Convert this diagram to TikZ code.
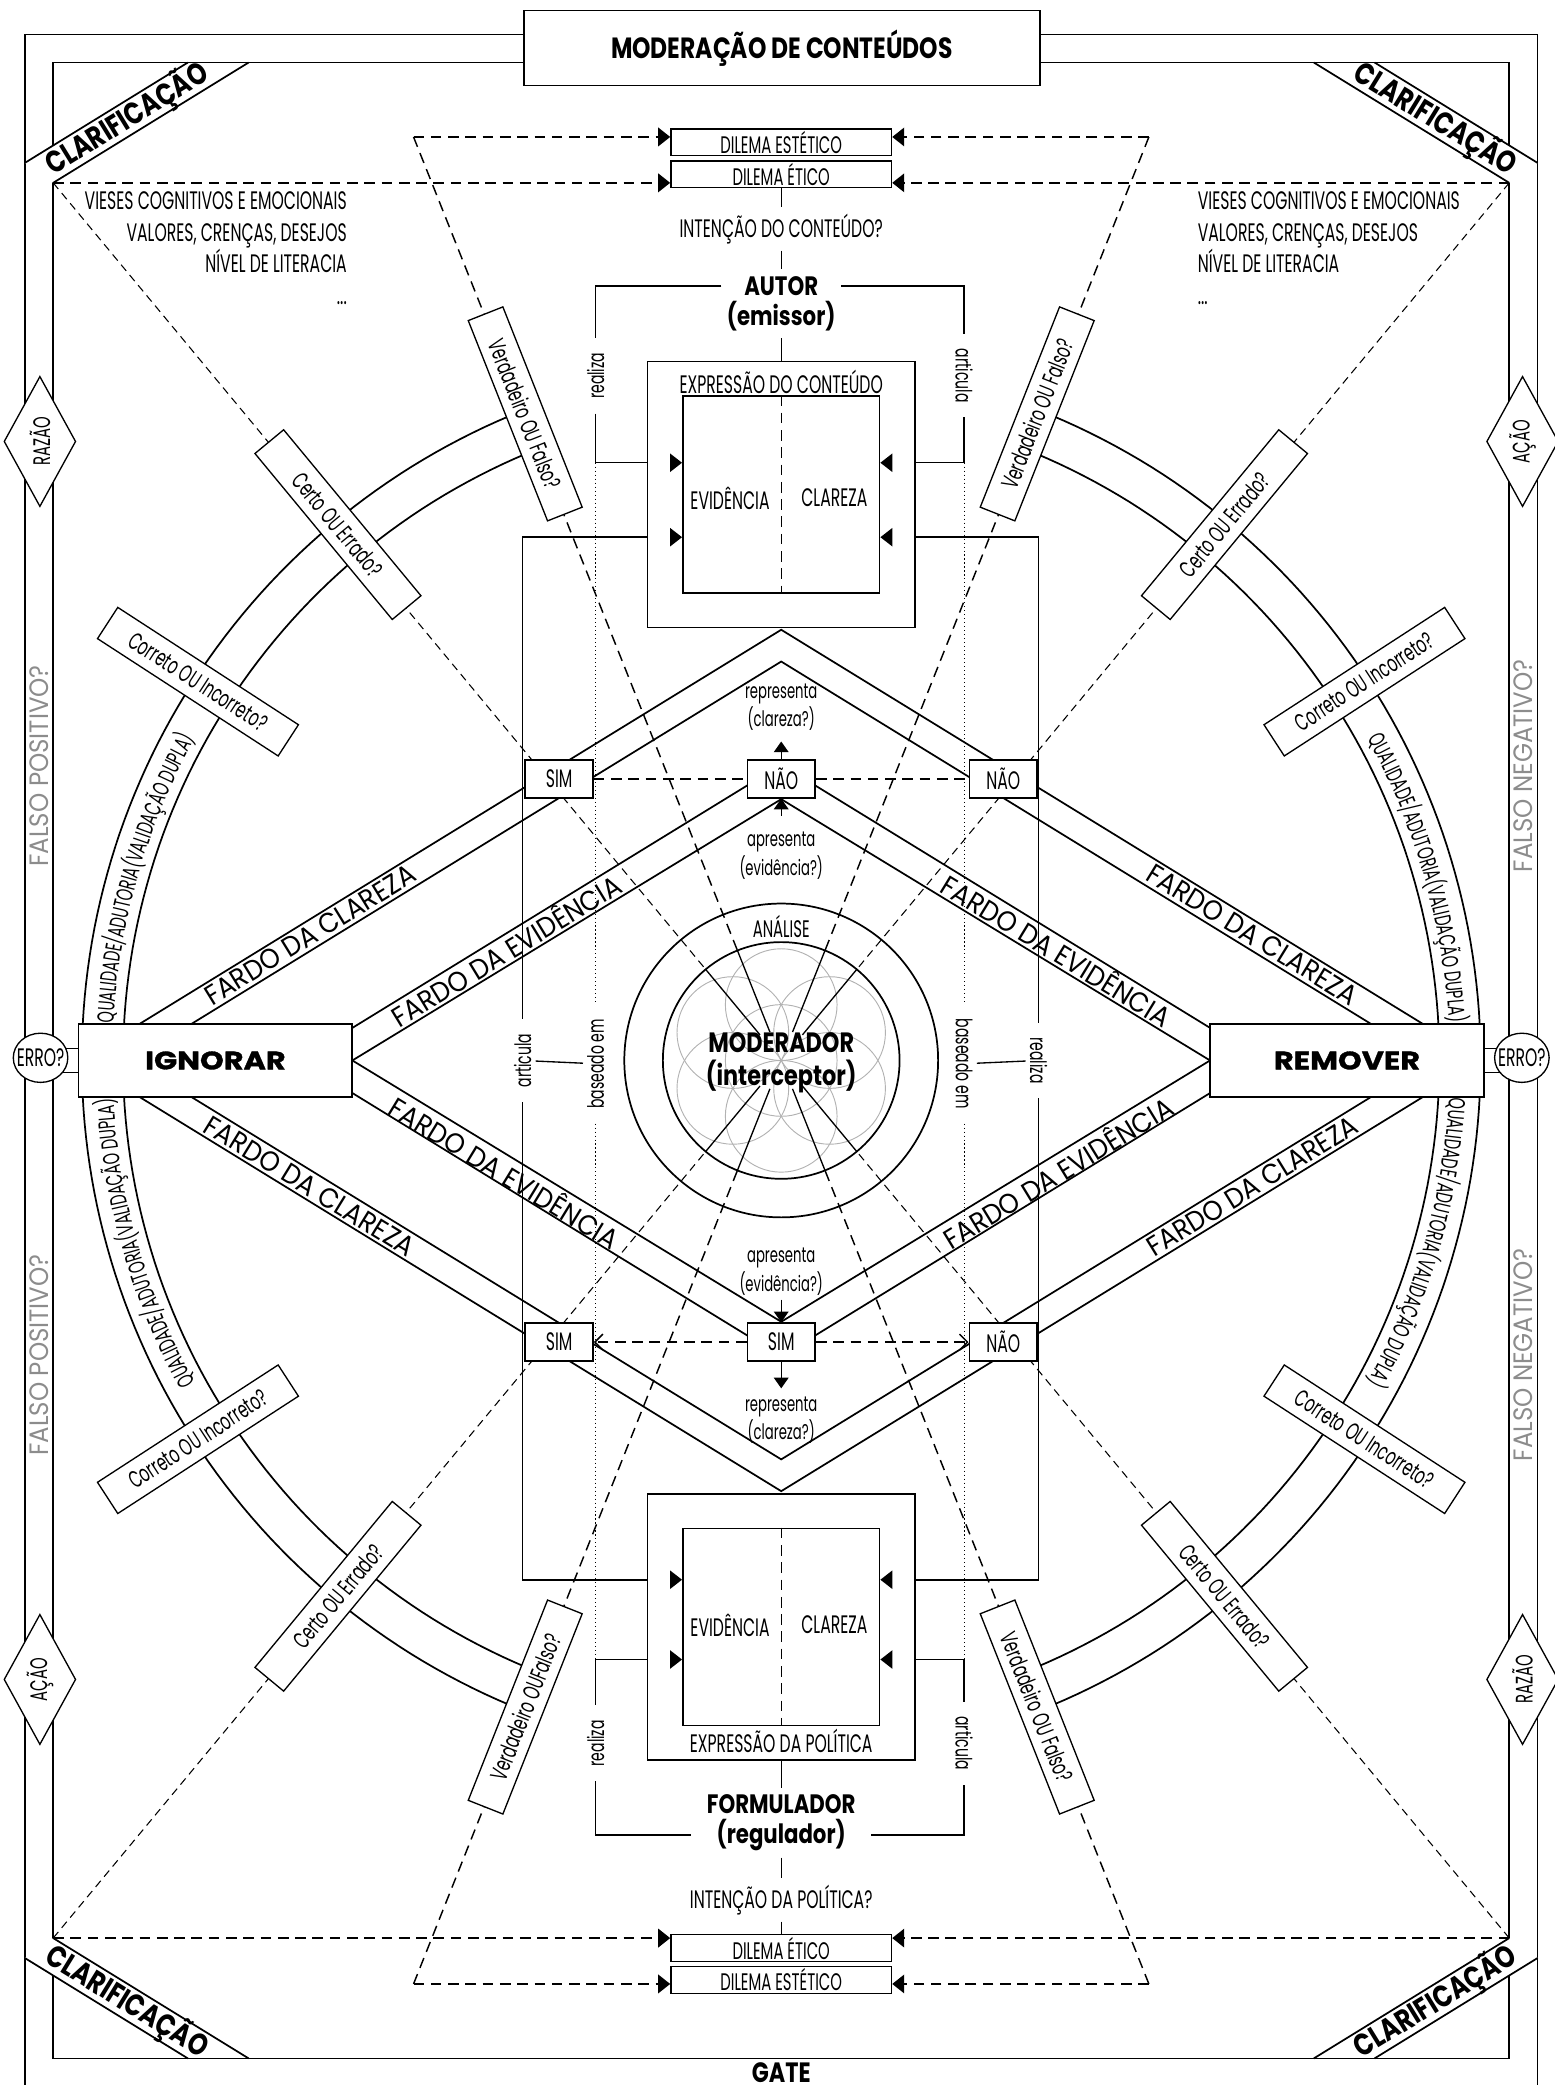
\documentclass[tikz,border=0pt]{standalone}
\usepackage{fontspec}
\setmainfont{Poppins}
\newfontfamily\cf{Poppins}[FakeStretch=0.62]
\newfontfamily\cfw{Poppins}[FakeStretch=0.92]
\newfontfamily\cfb{Poppins}[FakeStretch=0.8]
\newfontfamily\cfx{Poppins}[FakeStretch=1.2, FakeBold=1.2]
\newcommand{\fsz}[1]{\fontsize{#1}{#1}\selectfont}
\usetikzlibrary{arrows.meta, positioning, shapes.geometric, calc, decorations.text}
\pgfdeclarelayer{bg}
\pgfsetlayers{bg,main}
\tikzset{
	ln/.style={line width=1.3pt},
	thinln/.style={line width=1pt},
	dashA/.style={line width=1.1pt, dash pattern=on 8pt off 5pt},
	dashB/.style={line width=0.8pt, dash pattern=on 6pt off 4pt},
	dotln/.style={line width=0.8pt, dash pattern=on 0.8pt off 2.2pt},
	arrtip/.style={-{Triangle[length=9pt,width=14pt]}},
	smalltip/.style={-{Triangle[length=8pt,width=11pt]}},
	opentip/.style={-{Straight Barb[length=6pt,width=12pt]}},
	box/.style={draw, fill=white, line width=1.2pt, inner sep=0pt},
	yesno/.style={box, minimum width=51pt, minimum height=28.6pt, font=\cf\fsz{19}},
	dilema/.style={box, line width=1pt, minimum width=166pt, minimum height=20pt, font=\cf\fsz{18}},
	qbox/.style={box, line width=1pt, minimum width=162pt, minimum height=28pt, font=\cf\fsz{18}},
	actbox/.style={box, line width=1.4pt, minimum width=206pt, minimum height=55pt, font=\cfx\bfseries\fsz{19}},
	errnode/.style={box, ellipse, line width=1pt, minimum width=41pt, minimum height=37pt},
	diam/.style={box, diamond, line width=1pt, rotate=90, aspect=1.8, minimum width=98pt, minimum height=54pt, font=\cf\fsz{18}},
	lbl/.style={inner sep=5pt, font=\cf\fsz{19}},
	twoline/.style={inner sep=0pt, align=center, font=\cf\fontsize{16}{21.5}\selectfont},
	vlbl/.style={inner xsep=11pt, inner ysep=3pt, font=\cf\fsz{17}},
	bold/.style={inner sep=5pt, font=\cfb\bfseries\fsz{20}},
	clar/.style={inner sep=0pt, font=\cfb\bfseries\fsz{23}},
	fardo/.style={inner sep=0pt, font=\cfw\fsz{21}},
	falso/.style={inner sep=0pt, rotate=90, text=black!45, font=\cfw\fsz{20}},
	ringtext/.style={decorate, decoration={text along path, text align=center, text={|\cf\fsz{17.5}|QUALIDADE/ADUTORIA(VALIDAÇÃO DUPLA)}}},
}

\begin{document}
\begin{tikzpicture}[x=1pt, y=-1pt]
	\useasboundingbox (0,0) rectangle (1169,1568);
	% fixed points
	\coordinate (ctr) at (587.5,797.5);
	\coordinate (cTL) at (40,137.5);
	\coordinate (cTR) at (1135,137.5);
	\coordinate (cBL) at (40,1457.5);
	\coordinate (cBR) at (1135,1457.5);
	\coordinate (vTL) at (311,103);
	\coordinate (vTR) at (864,103);
	\coordinate (vBL) at (311,1492);
	\coordinate (vBR) at (864,1492);
	\coordinate (kTL) at (448,348);
	\coordinate (kTR) at (725,348);
	\coordinate (kBL) at (448,1248);
	\coordinate (kBR) at (725,1248);
	\coordinate (rTL) at (393,404);
	\coordinate (rTR) at (781,404);
	\coordinate (rBL) at (393,1188);
	\coordinate (rBR) at (781,1188);

	% corner bands
	\fill[white] (18.7,122.5) -- (141.3,48) -- (187,48) -- (40,137.5) -- cycle;
	\fill[white] (1156.3,122.5) -- (1033.7,48) -- (988,48) -- (1135,137.5) -- cycle;
	\fill[white] (18.7,1472.5) -- (141.3,1547) -- (187,1547) -- (40,1457.5) -- cycle;
	\fill[white] (1156.3,1472.5) -- (1033.7,1547) -- (988,1547) -- (1135,1457.5) -- cycle;
	\draw[ln] (18.7,122.5) -- (141.3,47) (40,137.5) -- (187,47);
	\draw[ln] (1156.3,122.5) -- (1033.7,47) (1135,137.5) -- (988,47);
	\draw[ln] (18.7,1472.5) -- (141.3,1548) (40,1457.5) -- (187,1548);
	\draw[ln] (1156.3,1472.5) -- (1033.7,1548) (1135,1457.5) -- (988,1548);
	\node[clar, rotate=31.6] (clTL) at (95.5,89.5) {CLARIFICAÇÃO};
	\node[clar, rotate=-31.6] (clTR) at (1079.5,89.5) {CLARIFICAÇÃO};
	\node[clar, rotate=-31.6] (clBL) at (95.5,1505.5) {CLARIFICAÇÃO};
	\node[clar, rotate=31.6] (clBR) at (1079.5,1505.5) {CLARIFICAÇÃO};

	\node[box, minimum width=388pt, minimum height=56.5pt, font=\cfb\bfseries\fsz{22}] (title) at (588,36) {MODERAÇÃO DE CONTEÚDOS};
	\node[clar, font=\cfb\bfseries\fsz{21}] (gate) at (587.5,1559) {GATE};

	% side bands
	\node[falso] (fpT) at (29.4,576) {FALSO POSITIVO?};
	\node[falso] (fpB) at (29.4,1019) {FALSO POSITIVO?};
	\node[falso] (fnT) at (1145.6,576) {FALSO NEGATIVO?};
	\node[falso] (fnB) at (1145.6,1019) {FALSO NEGATIVO?};
	\node[diam] (razL) at (30,332) {RAZÃO};
	\node[diam] (acL) at (30,1263) {AÇÃO};
	\node[diam] (acR) at (1145,332) {AÇÃO};
	\node[diam] (razR) at (1145,1263) {RAZÃO};
	\node[errnode] (erL) at (30.5,795.5) {};
	\node[errnode] (erR) at (1144.5,795.5) {};
	\node[inner sep=0pt, font=\cf\fsz{19}] (erLt) at (erL) {ERRO?};
	\node[inner sep=0pt, font=\cf\fsz{19}] (erRt) at (erR) {ERRO?};
	\node[actbox] (ign) at (162,797.5) {IGNORAR};
	\node[actbox] (rem) at (1013,797.5) {REMOVER};

	% bias notes
	\node[inner sep=0pt, anchor=north east, align=right, font=\cf\fontsize{19}{23.8}\selectfont] (viesL) at (261,144) {VIESES COGNITIVOS E EMOCIONAIS\\VALORES, CRENÇAS, DESEJOS\\NÍVEL DE LITERACIA\\...};
	\node[inner sep=0pt, anchor=north west, align=left, font=\cf\fontsize{19}{23.8}\selectfont] (viesR) at (900.6,144) {VIESES COGNITIVOS E EMOCIONAIS\\VALORES, CRENÇAS, DESEJOS\\NÍVEL DE LITERACIA\\...};

	% author column
	\node[dilema] (esT) at (587.5,107) {DILEMA ESTÉTICO};
	\node[dilema, below=3pt of esT] (etT) {DILEMA ÉTICO};
	\node[lbl] (intT) at (587.5,172) {INTENÇÃO DO CONTEÚDO?};
	\node[bold] (autor) at (587.5,215) {AUTOR};
	\node[bold] (emis) at (587.5,238) {(emissor)};
	\node[box, minimum width=201pt, minimum height=200pt] (exT) at (587.5,372) {};
	\node[lbl] (exTl) at (587.5,287) {EXPRESSÃO DO CONTEÚDO};
	\node[box, minimum width=148pt, minimum height=148pt] (inT) at (587.5,372) {};
	\node[lbl] (evT) at (549,374.5) {EVIDÊNCIA};
	\node[lbl] (clT) at (627.5,374.5) {CLAREZA};
	\node[vlbl, rotate=90] (reT) at (448,282.6) {realiza};
	\node[vlbl, rotate=-90] (arT) at (725,282.6) {articula};

	% policy column
	\node[box, minimum width=201pt, minimum height=200pt] (exB) at (587.5,1223.5) {};
	\node[lbl] (exBl) at (587.5,1309) {EXPRESSÃO DA POLÍTICA};
	\node[box, minimum width=148pt, minimum height=148pt] (inB) at (587.5,1223.5) {};
	\node[lbl] (evB) at (549,1222) {EVIDÊNCIA};
	\node[lbl] (clB) at (627.5,1222) {CLAREZA};
	\node[bold] (form) at (587.5,1357) {FORMULADOR};
	\node[bold] (regu) at (587.5,1380) {(regulador)};
	\node[lbl] (intB) at (587.5,1428.6) {INTENÇÃO DA POLÍTICA?};
	\node[dilema] (etB) at (587.5,1465) {DILEMA ÉTICO};
	\node[dilema, below=3pt of etB] (esB) {DILEMA ESTÉTICO};
	\node[vlbl, rotate=90] (reB) at (448,1311) {realiza};
	\node[vlbl, rotate=-90] (arB) at (725,1311) {articula};

	% side labels of the analysis frame
	\node[vlbl, rotate=90] (artL) at (393,797.5) {articula};
	\node[vlbl, rotate=90] (baL) at (448,800) {baseado em};
	\node[vlbl, rotate=-90] (baR) at (725,800) {baseado em};
	\node[vlbl, rotate=-90] (reR) at (781,797.5) {realiza};

	% decisions
	\node[yesno] (simTL) at (420.5,585.7) {SIM};
	\node[yesno] (naoTM) at (587.5,585.7) {NÃO};
	\node[yesno] (naoTR) at (754.5,585.7) {NÃO};
	\node[yesno] (simBL) at (420.5,1009.3) {SIM};
	\node[yesno] (simBM) at (587.5,1009.3) {SIM};
	\node[yesno] (naoBR) at (754.5,1009.3) {NÃO};
	\node[twoline] (repT) at (587.5,531.7) {representa\\(clareza?)};
	\node[twoline] (aprT) at (587.5,643.5) {apresenta\\(evidência?)};
	\node[twoline] (aprB) at (587.5,956.5) {apresenta\\(evidência?)};
	\node[twoline] (repB) at (587.5,1068) {representa\\(clareza?)};
	\node[lbl, font=\cf\fsz{18}] (anal) at (587.5,696.7) {ANÁLISE};
	\node[bold, font=\cfb\bfseries\fsz{21}] (mod) at (587.5,784) {MODERADOR};
	\node[bold, font=\cfb\bfseries\fsz{21}] (icp) at (587.5,809.5) {(interceptor)};

	% burden bands
	\node[fardo, rotate=31.6] (fcUL) at (233,703) {FARDO DA CLAREZA};
	\node[fardo, rotate=31.4] (feUL) at (380,714) {FARDO DA EVIDÊNCIA};
	\node[fardo, rotate=-31.4] (feUR) at (795,714) {FARDO DA EVIDÊNCIA};
	\node[fardo, rotate=-31.6] (fcUR) at (942,703) {FARDO DA CLAREZA};
	\node[fardo, rotate=-31.6] (fcLL) at (233,892) {FARDO DA CLAREZA};
	\node[fardo, rotate=-31.4] (feLL) at (380,881) {FARDO DA EVIDÊNCIA};
	\node[fardo, rotate=31.4] (feLR) at (795,881) {FARDO DA EVIDÊNCIA};
	\node[fardo, rotate=31.6] (fcLR) at (942,892) {FARDO DA CLAREZA};

	% questions on the ring
	\node[qbox, rotate=-33] (coUL) at ($(ctr)+(-147:523)$) {Correto OU Incorreto?};
	\node[qbox, rotate=-50.4] (ceUL) at ($(ctr)+(-129.6:523)$) {Certo OU Errado?};
	\node[qbox, rotate=-68.4] (veUL) at ($(ctr)+(-111.6:523)$) {Verdadeiro OU Falso?};
	\node[qbox, rotate=33] (coUR) at ($(ctr)+(-33:523)$) {Correto OU Incorreto?};
	\node[qbox, rotate=50.4] (ceUR) at ($(ctr)+(-50.4:523)$) {Certo OU Errado?};
	\node[qbox, rotate=68.4] (veUR) at ($(ctr)+(-68.4:523)$) {Verdadeiro OU Falso?};
	\node[qbox, rotate=33] (coLL) at ($(ctr)+(147:523)$) {Correto OU Incorreto?};
	\node[qbox, rotate=50.4] (ceLL) at ($(ctr)+(129.6:523)$) {Certo OU Errado?};
	\node[qbox, rotate=68.4] (veLL) at ($(ctr)+(111.6:523)$) {Verdadeiro OUFalso?};
	\node[qbox, rotate=-33] (coLR) at ($(ctr)+(33:523)$) {Correto OU Incorreto?};
	\node[qbox, rotate=-50.4] (ceLR) at ($(ctr)+(50.4:523)$) {Certo OU Errado?};
	\node[qbox, rotate=-68.4] (veLR) at ($(ctr)+(68.4:523)$) {Verdadeiro OU Falso?};

	\foreach \c in {164,196,16,-16}
		\path[ringtext] plot[domain=0:1, samples=60, variable=\t] ({587.5+503*cos(\c+30-60*\t)},{797.5-503*sin(\c+30-60*\t)});

	% inside the expression boxes
	\draw[dashA, line width=1pt] (inT.north) -- (inT.south);
	\draw[dashA, line width=1pt] (inB.north) -- (inB.south);
	\fill (inT.west |- kTL) -- ++(-9,-7) -- ++(0,14) -- cycle;
	\fill (inT.west |- rTL) -- ++(-9,-7) -- ++(0,14) -- cycle;
	\fill (inT.east |- kTR) -- ++(9,-7) -- ++(0,14) -- cycle;
	\fill (inT.east |- rTR) -- ++(9,-7) -- ++(0,14) -- cycle;
	\fill (inB.west |- kBL) -- ++(-9,-7) -- ++(0,14) -- cycle;
	\fill (inB.west |- rBL) -- ++(-9,-7) -- ++(0,14) -- cycle;
	\fill (inB.east |- kBR) -- ++(9,-7) -- ++(0,14) -- cycle;
	\fill (inB.east |- rBR) -- ++(9,-7) -- ++(0,14) -- cycle;

	\begin{pgfonlayer}{bg}
		% frame
		\draw[ln] (18.7,1600) -- (18.7,26) -- (1156.3,26) -- (1156.3,1600);
		\draw[ln] (40,47) rectangle (1135,1548);
		\draw[thinln] ([yshift=9pt]ign.west) -- ([yshift=9pt]ign.west -| erL);
		\draw[thinln] ([yshift=-9pt]ign.west) -- ([yshift=-9pt]ign.west -| erL);
		\draw[thinln] ([yshift=9pt]rem.east) -- ([yshift=9pt]rem.east -| erR);
		\draw[thinln] ([yshift=-9pt]rem.east) -- ([yshift=-9pt]rem.east -| erR);
		% review ring
		\foreach \r in {495,526} {
			\draw[ln] plot[domain=111.6:248.4, samples=120] ({587.5+\r*cos(\x)},{797.5-\r*sin(\x)});
			\draw[ln] plot[domain=-68.4:68.4, samples=120] ({587.5+\r*cos(\x)},{797.5-\r*sin(\x)});
		}
		% burden bands
		\draw[ln] (105,770) -- (587.5,473.6) -- (1070,770);
		\draw[ln] (144,770) -- (587.5,497.5) -- (1031,770);
		\draw[ln] (265,773) -- (587.5,575) -- (910,773);
		\draw[ln] (265,797.5) -- (587.5,601) -- (910,797.5);
		\draw[ln] (105,825) -- (587.5,1121.4) -- (1070,825);
		\draw[ln] (144,825) -- (587.5,1097.5) -- (1031,825);
		\draw[ln] (265,822) -- (587.5,1020) -- (910,822);
		\draw[ln] (265,797.5) -- (587.5,994) -- (910,797.5);
		% moderator
		\draw[black!30, line width=0.7pt] (ctr) circle[radius=42pt];
		\foreach \a in {30,90,...,330}
			\draw[black!30, line width=0.7pt] ($(ctr)+(\a:42)$) circle[radius=42pt];
		\draw[ln] (ctr) circle[radius=118pt];
		\draw[ln] (ctr) circle[radius=89pt];
		% sight lines
		\foreach \p in {cTL,cTR,cBL,cBR} {
			\draw[dashB] (\p) -- ($(ctr)!89pt!(\p)$);
			\draw[thinln] ($(ctr)!89pt!(\p)$) -- ($(ctr)!25pt!(\p)$);
		}
		\foreach \p in {vTL,vTR,vBL,vBR} {
			\draw[dashA] (\p) -- ($(ctr)!89pt!(\p)$);
			\draw[thinln] ($(ctr)!89pt!(\p)$) -- ($(ctr)!23pt!(\p)$);
		}
		\draw[dashA, arrtip] (cTL) -- (cTL -| etT.west);
		\draw[dashA, arrtip] (vTL) -- (vTL -| esT.west);
		\draw[dashA, arrtip] (cTR) -- (cTR -| etT.east);
		\draw[dashA, arrtip] (vTR) -- (vTR -| esT.east);
		\draw[dashA, arrtip] (cBL) -- (cBL -| etB.west);
		\draw[dashA, arrtip] (vBL) -- (vBL -| esB.west);
		\draw[dashA, arrtip] (cBR) -- (cBR -| etB.east);
		\draw[dashA, arrtip] (vBR) -- (vBR -| esB.east);
		% columns
		\draw[thinln] (etT) -- (intT);
		\draw[thinln] (intT) -- (autor);
		\draw[thinln] (emis) -- (exT);
		\draw[thinln] ([xshift=-12pt]autor.west) -| (reT.east);
		\draw[thinln] (reT.west) -- (kTL) -- (kTL -| exT.west);
		\draw[thinln] ([xshift=12pt]autor.east) -| (arT.west);
		\draw[thinln] (arT.east) -- (kTR) -- (kTR -| exT.east);
		\draw[thinln] (exB) -- (form);
		\draw[thinln] (regu) -- (intB);
		\draw[thinln] (intB) -- (etB);
		\draw[thinln] (kBL -| exB.west) -- (kBL) -- (reB.east);
		\draw[thinln] (reB.west) |- ([xshift=-14pt]regu.west);
		\draw[thinln] (kBR -| exB.east) -- (kBR) -- (arB.west);
		\draw[thinln] (arB.east) |- ([xshift=14pt]regu.east);
		\draw[dotln] (kTL) -- (baL.east);
		\draw[dotln] (baL.west) -- (kBL);
		\draw[dotln] (kTR) -- (baR.west);
		\draw[dotln] (baR.east) -- (kBR);
		\draw[ln] (rTL -| exT.west) -- (rTL) -- (artL.east);
		\draw[ln] (artL.west) -- (rBL) -- (rBL -| exB.west);
		\draw[ln] (rTR -| exT.east) -- (rTR) -- (reR.west);
		\draw[ln] (reR.east) -- (rBR) -- (rBR -| exB.east);
		\draw[thinln] (artL) -- (baL);
		\draw[thinln] (reR) -- (baR);
		% decisions
		\draw[dashA] (simTL) -- (naoTM);
		\draw[dashA] (naoTM) -- (naoTR);
		\draw[dashA, opentip] (simBM) -- (simBL);
		\draw[dashA, opentip] (simBM) -- (naoBR);
		\draw[thinln, smalltip, shorten >=8pt] (naoTM) -- (repT);
		\draw[thinln, smalltip, shorten <=12pt] (aprT) -- (naoTM);
		\draw[thinln, smalltip, shorten <=3pt] (aprB) -- (simBM);
		\draw[thinln, smalltip, shorten >=6pt] (simBM) -- (repB);
	\end{pgfonlayer}
\end{tikzpicture}
\end{document}
